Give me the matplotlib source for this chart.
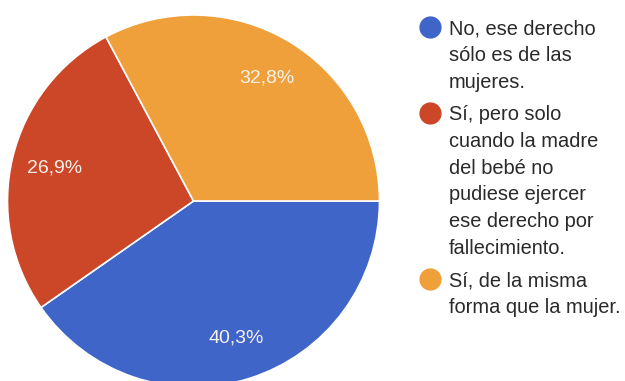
import matplotlib.pyplot as plt

labels = [
    "No, ese derecho sólo es de las mujeres.",
    "Sí, pero solo cuando la madre del bebé no pudiese ejercer ese derecho por fallecimiento.",
    "Sí, de la misma forma que la mujer.",
]
legend_lines = [
    ["No, ese derecho", "sólo es de las", "mujeres."],
    ["Sí, pero solo", "cuando la madre", "del bebé no", "pudiese ejercer",
     "ese derecho por", "fallecimiento."],
    ["Sí, de la misma", "forma que la mujer."],
]
values = [40.3, 26.9, 32.8]
colors = ["#3f65c8", "#cc4628", "#f0a03a"]


def main():
    W, H = 625, 381
    fig = plt.figure(figsize=(W / 100, H / 100), dpi=100)
    plt.rcParams['font.family'] = ['Liberation Sans', 'DejaVu Sans']

    # pie centre (193, 200) px, radius 186 px, cut at the bottom
    cx, cy, r = 193.5, 201, 186
    ax = fig.add_axes([(cx - r) / W, (H - cy - r) / H, 2 * r / W, 2 * r / H])
    ax.pie(
        values, colors=colors, startangle=0, counterclock=False,
        autopct=lambda p: f"{p:.1f}%".replace(".", ","), pctdistance=0.77,
        wedgeprops=dict(edgecolor="white", linewidth=1.2),
        textprops=dict(color="#f7f2ea", fontsize=14),
    )
    ax.set_xlim(-1, 1)
    ax.set_ylim(-1, 1)
    ax.axis("off")

    # legend drawn by hand
    y = 27
    step = 26.7
    gap = 32.5
    for lines, col in zip(legend_lines, colors):
        fig.add_artist(plt.Line2D([430 / W], [1 - y / H], marker="o",
                                  markersize=15, color=col, linestyle=""))
        for i, line in enumerate(lines):
            fig.text(449 / W, 1 - y / H, line, fontsize=14.4, color="#2a2a2a",
                     ha="left", va="center_baseline")
            if i < len(lines) - 1:
                y += step
        y += gap

    fig.savefig("out.png", dpi=100)


if __name__ == "__main__":
    main()
